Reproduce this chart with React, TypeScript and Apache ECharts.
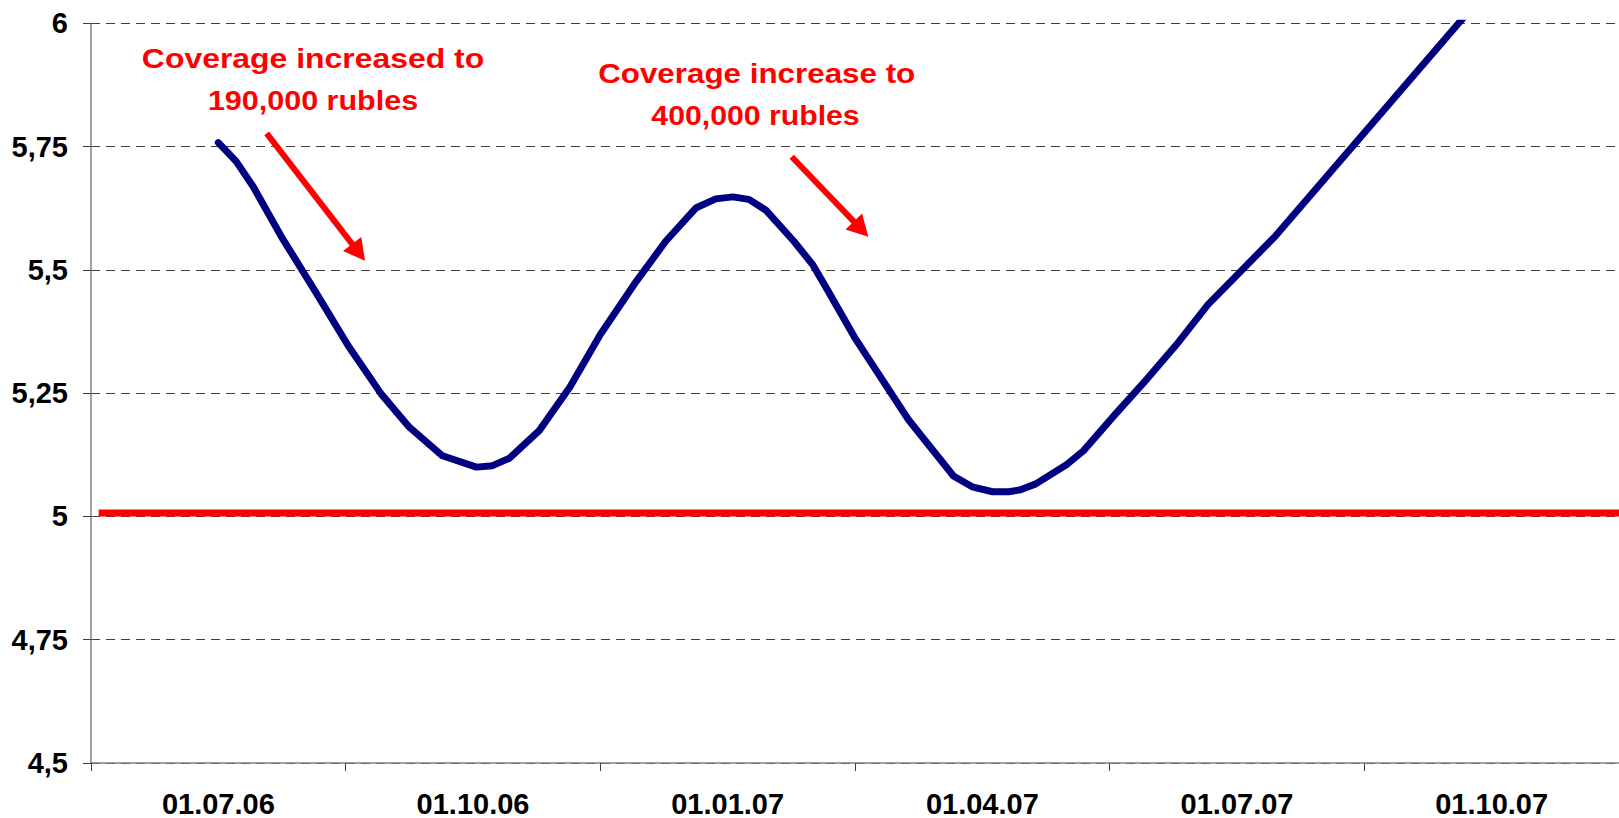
import React, { useEffect, useRef } from "react";
import * as echarts from "echarts";

// Quarter labels of the category axis
const categories = ["01.07.06", "01.10.06", "01.01.07", "01.04.07", "01.07.07", "01.10.07"];

// Blue series: months elapsed since 01.07.06 and the value
const blueMonths = [
  0, 0.21, 0.41, 0.74, 1.14, 1.53, 1.92, 2.25, 2.64, 3.04, 3.23, 3.43, 3.78, 4.14, 4.5, 4.9,
  5.27, 5.63, 5.86, 6.06, 6.25, 6.45, 6.78, 7.0, 7.16, 7.51, 8.13, 8.66, 8.88, 9.12, 9.31,
  9.45, 9.63, 10.0, 10.19, 10.57, 10.92, 11.29, 11.66, 12.45, 13.5, 14.8,
];
const blueValues = [
  5.758, 5.72, 5.669, 5.568, 5.457, 5.346, 5.248, 5.181, 5.123, 5.1, 5.103, 5.118, 5.174,
  5.262, 5.369, 5.471, 5.558, 5.626, 5.644, 5.648, 5.643, 5.621, 5.558, 5.511, 5.464, 5.359,
  5.196, 5.082, 5.06, 5.05, 5.05, 5.054, 5.066, 5.106, 5.133, 5.208, 5.275, 5.349, 5.43,
  5.568, 5.778, 6.038,
];

// Red threshold line
const redMonths = [-1.41, 16.5];
const redValues = [5.007, 5.007];

// Axis ranges
const yMin = 4.5;
const yMax = 6;
const yStep = 0.25;
const monthsMin = -1.5;
const monthsMax = 16.5;

// Annotation texts
const note1 = ["Coverage increased to", "190,000 rubles"];
const note2 = ["Coverage increase to", "400,000 rubles"];

export default function App() {
  const ref = useRef<HTMLDivElement>(null);

  useEffect(() => {
    if (!ref.current) return;
    const chart = echarts.init(ref.current, undefined, { renderer: "svg" });
    const font = '"Liberation Sans", Arial, sans-serif';
    const red = "#ff0000";

    const textEl = (text: string, x: number, y: number, sx: number) => ({
      type: "text",
      x,
      y,
      scaleX: sx,
      z: 100,
      style: {
        text,
        fill: red,
        fontFamily: font,
        fontWeight: "bold",
        fontSize: 28,
        align: "center",
        verticalAlign: "middle",
      },
    });

    const arrow = (sx: number, sy: number, tx: number, ty: number) => {
      const dx = tx - sx;
      const dy = ty - sy;
      const len = Math.sqrt(dx * dx + dy * dy);
      const ux = dx / len;
      const uy = dy / len;
      const nx = -uy;
      const ny = ux;
      const hl = 21;
      const hw = 11.5;
      const bx = tx - hl * ux;
      const by = ty - hl * uy;
      return [
        {
          type: "line",
          z: 100,
          shape: { x1: sx, y1: sy, x2: tx - 18 * ux, y2: ty - 18 * uy },
          style: { stroke: red, lineWidth: 6 },
        },
        {
          type: "polygon",
          z: 100,
          shape: {
            points: [
              [tx, ty],
              [bx + hw * nx, by + hw * ny],
              [bx - hw * nx, by - hw * ny],
            ],
          },
          style: { fill: red },
        },
      ];
    };

    chart.setOption({
      animation: false,
      backgroundColor: "#ffffff",
      grid: { left: 91, top: 23.3, width: 1535, height: 742 },
      xAxis: [
        {
          type: "category",
          data: categories,
          boundaryGap: true,
          axisLine: { onZero: false, lineStyle: { color: "#808080", width: 1.5 } },
          axisTick: { show: true, length: 8, lineStyle: { color: "#404040" } },
          axisLabel: {
            interval: 0,
            margin: 26,
            color: "#000000",
            fontFamily: font,
            fontWeight: "bold",
            fontSize: 29,
          },
          splitLine: { show: false },
        },
        {
          type: "value",
          min: monthsMin,
          max: monthsMax,
          show: false,
          axisLine: { onZero: false },
          splitLine: { show: false },
        },
      ],
      yAxis: {
        type: "value",
        min: yMin,
        max: yMax,
        interval: yStep,
        axisLine: { show: true, onZero: false, lineStyle: { color: "#808080", width: 1.5 } },
        axisTick: { show: true, length: 8, lineStyle: { color: "#404040" } },
        axisLabel: {
          margin: 23,
          color: "#000000",
          fontFamily: font,
          fontWeight: "bold",
          fontSize: 29,
          formatter: (v: number) => String(v).replace(".", ","),
        },
        splitLine: {
          show: true,
          lineStyle: { color: "#404040", type: [9, 6], width: 1 },
        },
      },
      series: [
        {
          type: "line",
          xAxisIndex: 1,
          data: redMonths.map((m, i) => [m, redValues[i]]),
          showSymbol: false,
          clip: true,
          lineStyle: { color: red, width: 7, cap: "butt" },
          z: 3,
        },
        {
          type: "line",
          xAxisIndex: 1,
          data: blueMonths.map((m, i) => [m, blueValues[i]]),
          showSymbol: false,
          clip: true,
          lineStyle: { color: "#000080", width: 7, cap: "round", join: "round" },
          z: 4,
        },
      ],
      graphic: [
        textEl(note1[0], 313, 58.3, 1.14),
        textEl(note1[1], 313, 100, 1.09),
        textEl(note2[0], 756.7, 73.3, 1.12),
        textEl(note2[1], 755.5, 115, 1.08),
        ...arrow(266.7, 133.3, 365, 260.7),
        ...arrow(791.7, 156.7, 868.3, 236.7),
      ],
    });

    return () => chart.dispose();
  }, []);

  return (
    <div
      ref={ref}
      style={{ position: "fixed", left: 0, top: 0, width: 1619, height: 818, background: "#fff" }}
    />
  );
}
